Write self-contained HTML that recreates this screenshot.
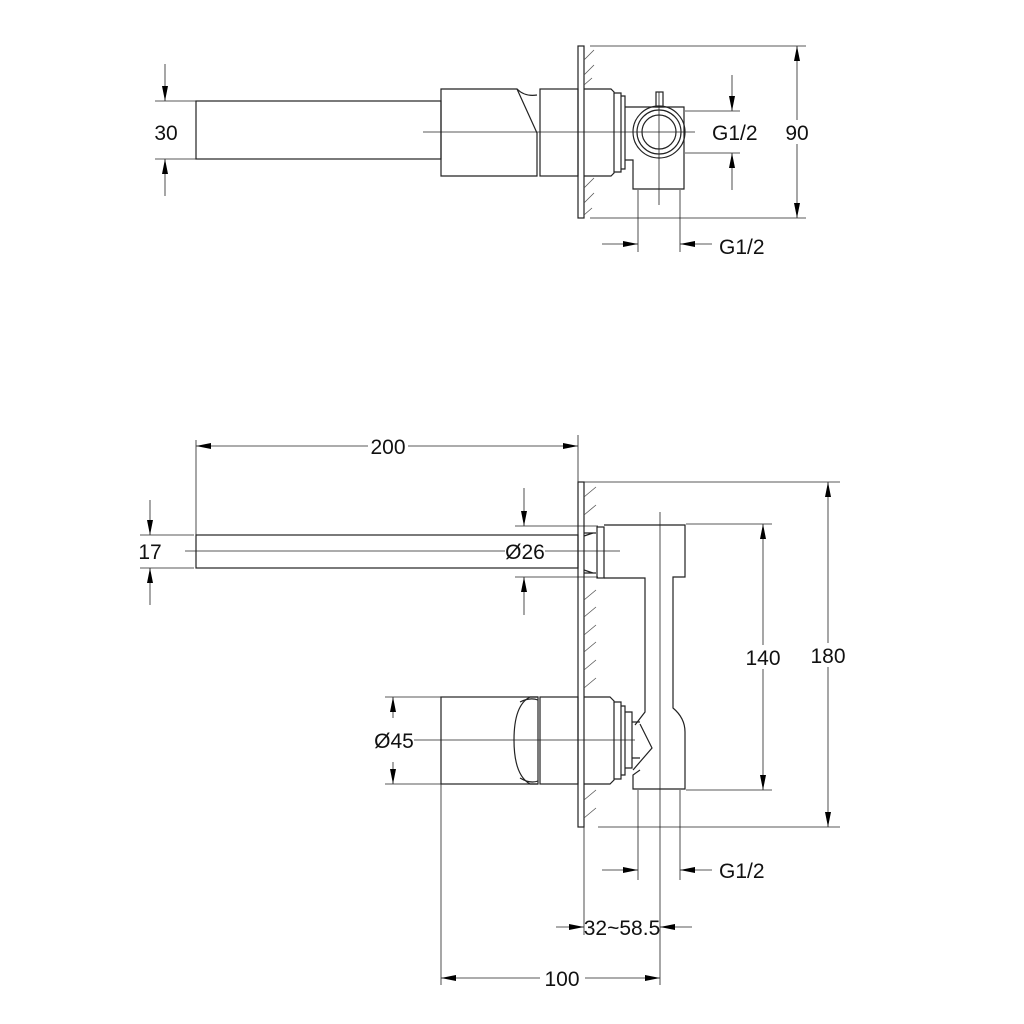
<!DOCTYPE html>
<html><head><meta charset="utf-8"><style>
html,body{margin:0;padding:0;background:#fff;}
svg{display:block}
text{font-family:"Liberation Sans Narrow","Liberation Sans",sans-serif;font-size:21px;fill:#111;}
</style></head><body>
<svg width="1024" height="1024" viewBox="0 0 1024 1024" xmlns="http://www.w3.org/2000/svg">
<defs>
<marker id="a" markerWidth="16" markerHeight="8" refX="15" refY="4" orient="auto" markerUnits="userSpaceOnUse"><path d="M0,1 L15,4 L0,7 Z" fill="#000"/></marker>
</defs>
<g stroke="#222" stroke-width="1.2" fill="none">
<rect x="196" y="101" width="245" height="58"/>
<path d="M441,89 H517 L537,133 V176 H441 Z"/>
<path d="M517,89 Q525,97 537,95"/>
<rect x="540" y="89" width="38" height="87"/>
<rect x="578" y="46" width="6" height="172"/>
<path d="M584,89 H611 L614,92 V173 L611,176 H584"/>
<path d="M614,93 H621 V172 H614 M621,96 H625 V169 H621"/>
<path d="M625,107 H684 V189 H633 V160 L625,160"/>
<circle cx="659" cy="132" r="26"/>
<circle cx="659" cy="132" r="22"/>
<circle cx="659" cy="132" r="17"/>
<rect x="656" y="92" width="7" height="15"/>
<path d="M584,60 L594,50 M584,75 L594,65 M584,85 L592,78 M584,188 L594,178 M584,203 L594,193 M584,215 L592,208" stroke-width="0.8" stroke="#555"/>
<path d="M423,132 H695 M659,92 V205" stroke-width="0.8"/>
<path d="M155,101 H196 M155,159 H196" stroke-width="0.8"/>
<path d="M165,64 V101" marker-end="url(#a)" stroke-width="0.8"/>
<path d="M165,196 V159" marker-end="url(#a)" stroke-width="0.8"/>
<path d="M685,111 H740 M685,153 H740" stroke-width="0.8"/>
<path d="M732,75 V111" marker-end="url(#a)" stroke-width="0.8"/>
<path d="M732,190 V153" marker-end="url(#a)" stroke-width="0.8"/>
<path d="M590,46 H806 M590,218 H806" stroke-width="0.8"/>
<path d="M797,132 V46" marker-end="url(#a)" stroke-width="0.8"/>
<path d="M797,132 V218" marker-end="url(#a)" stroke-width="0.8"/>
<path d="M638,190 V252 M680,190 V252" stroke-width="0.8"/>
<path d="M602,244 H638" marker-end="url(#a)" stroke-width="0.8"/>
<path d="M712,244 H680" marker-end="url(#a)" stroke-width="0.8"/>

<rect x="196" y="535" width="382" height="33"/>
<path d="M185,551 H620" stroke-width="0.8"/>
<rect x="578" y="482" width="6" height="345"/>
<path d="M584,482 H840 M598,827 H840" stroke-width="0.8"/>
<path d="M584,497 L596,487 M584,515 L596,505 M584,600 L596,590 M584,617 L596,607 M584,635 L596,625 M584,652 L596,642 M584,670 L596,660 M584,688 L596,678 M584,800 L596,790 M584,818 L596,808" stroke-width="0.8" stroke="#555"/>
<path d="M584,533 H596 M584,573 H596 M584,536 L593,533 M584,570 L593,573"/>
<rect x="597" y="527" width="7" height="51"/>
<path d="M604,525 H685 V577 H673 V708 Q685,718 685,732 V789 H633 V775 L640,770 M604,578 H645 V712 L635,725"/>
<path d="M633,770 L652,748 L640,724"/>
<rect x="441" y="697" width="97" height="87"/>
<path d="M538,697 H530 Q514,705 514,740 Q514,775 530,784 H538"/>
<path d="M520,702 Q530,697 538,700 M520,778 Q530,784 538,781"/>
<rect x="540" y="697" width="38" height="87"/>
<path d="M584,697 H610 L614,701 V780 L610,784 H584 M614,702 H621 V779 H614 M621,706 H625 V775 H621 M625,712 H632 V768 H625"/>
<path d="M632,722 L640,722 M632,758 L640,758"/>
<path d="M400,740 H635" stroke-width="0.8"/>
<path d="M660,512 V985" stroke-width="0.8"/>
<path d="M196,440 V535 M578,435 V482" stroke-width="0.8"/>
<path d="M387,446 H196" marker-end="url(#a)" stroke-width="0.8"/>
<path d="M387,446 H578" marker-end="url(#a)" stroke-width="0.8"/>
<path d="M140,535 H194 M140,568 H194" stroke-width="0.8"/>
<path d="M150,500 V535" marker-end="url(#a)" stroke-width="0.8"/>
<path d="M150,605 V568" marker-end="url(#a)" stroke-width="0.8"/>
<path d="M515,526 H598 M515,577 H598" stroke-width="0.8"/>
<path d="M524,488 V526" marker-end="url(#a)" stroke-width="0.8"/>
<path d="M524,615 V577" marker-end="url(#a)" stroke-width="0.8"/>
<path d="M686,524 H772 M686,790 H772" stroke-width="0.8"/>
<path d="M763,657 V524" marker-end="url(#a)" stroke-width="0.8"/>
<path d="M763,657 V790" marker-end="url(#a)" stroke-width="0.8"/>
<path d="M828,655 V482" marker-end="url(#a)" stroke-width="0.8"/>
<path d="M828,655 V827" marker-end="url(#a)" stroke-width="0.8"/>
<path d="M385,697 H441 M385,784 H441" stroke-width="0.8"/>
<path d="M393,718 V697" marker-end="url(#a)" stroke-width="0.8"/>
<path d="M393,762 V784" marker-end="url(#a)" stroke-width="0.8"/>
<path d="M638,790 V880 M680,790 V880" stroke-width="0.8"/>
<path d="M602,870 H638" marker-end="url(#a)" stroke-width="0.8"/>
<path d="M712,870 H680" marker-end="url(#a)" stroke-width="0.8"/>
<path d="M584,827 V935" stroke-width="0.8"/>
<path d="M556,927 H584" marker-end="url(#a)" stroke-width="0.8"/>
<path d="M692,927 H660" marker-end="url(#a)" stroke-width="0.8"/>
<path d="M441,784 V985" stroke-width="0.8"/>
<path d="M540,978 H441" marker-end="url(#a)" stroke-width="0.8"/>
<path d="M585,978 H660" marker-end="url(#a)" stroke-width="0.8"/>
</g>
<g>
<rect x="153" y="120" width="26" height="24" fill="#fff"/>
<text x="166" y="140" text-anchor="middle">30</text>
<text x="712" y="140">G1/2</text>
<rect x="784" y="120" width="26" height="24" fill="#fff"/>
<text x="797" y="140" text-anchor="middle">90</text>
<text x="719" y="254">G1/2</text>
<rect x="368" y="434" width="40" height="24" fill="#fff"/>
<text x="388" y="454" text-anchor="middle">200</text>
<text x="150" y="559" text-anchor="middle">17</text>
<rect x="505" y="539" width="40" height="24" fill="#fff"/>
<text x="525" y="559" text-anchor="middle">Ø26</text>
<rect x="745" y="645" width="36" height="24" fill="#fff"/>
<text x="763" y="665" text-anchor="middle">140</text>
<rect x="810" y="643" width="36" height="24" fill="#fff"/>
<text x="828" y="663" text-anchor="middle">180</text>
<rect x="374" y="728" width="40" height="24" fill="#fff"/>
<text x="394" y="748" text-anchor="middle">Ø45</text>
<text x="719" y="878">G1/2</text>
<text x="622" y="935" text-anchor="middle">32~58.5</text>
<text x="562" y="986" text-anchor="middle">100</text>
</g>
</svg>
</body></html>
